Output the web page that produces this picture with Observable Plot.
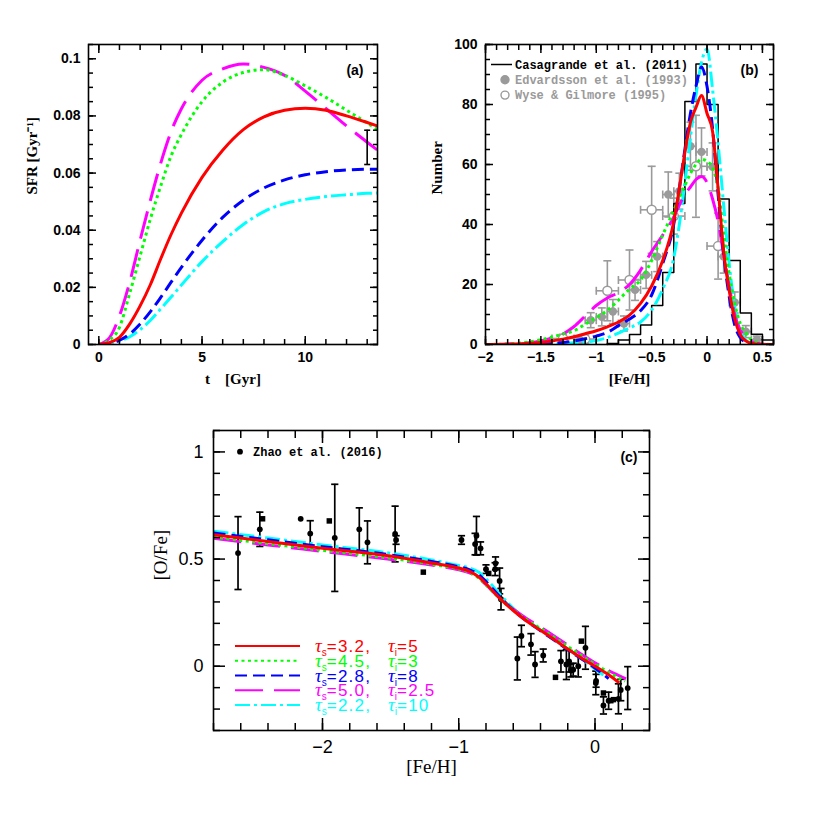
<!DOCTYPE html>
<html>
<head>
<meta charset="utf-8">
<script src="https://cdn.jsdelivr.net/npm/d3@7"></script>
<script src="https://cdn.jsdelivr.net/npm/@observablehq/plot@0.6"></script>
<style>
html,body{margin:0;padding:0;background:#fff;}
#wrap{position:relative;width:817px;height:817px;overflow:hidden;background:#fff;}
#wrap svg{position:absolute;overflow:visible;background:transparent;max-width:none;}
</style>
</head>
<body>
<div id="wrap"></div>
<script>
// ---------------- DATA ----------------
// model labels (tau_s, tau_i)
const modelTauS = ["3.2", "4.5", "2.8", "5.0", "2.2"];
const modelTauI = ["5", "3", "8", "2.5", "10"];

// panel (a): SFR vs time
const sfrT       = [0, 0.5, 1, 1.5, 2, 2.5, 3, 3.5, 4, 5, 6, 7, 8, 9, 10, 11, 12, 13, 13.5];
const sfrRed     = [0, 0.0006, 0.0025, 0.0072, 0.0135, 0.021, 0.030, 0.0385, 0.046, 0.0585, 0.068, 0.0752, 0.0797, 0.082, 0.0827, 0.082, 0.080, 0.0777, 0.0765];
const sfrGreen   = [0, 0.0015, 0.006, 0.018, 0.031, 0.044, 0.0555, 0.066, 0.0735, 0.085, 0.0918, 0.0952, 0.0962, 0.0942, 0.0905, 0.0865, 0.082, 0.0775, 0.0752];
const sfrBlue    = [0, 0.0003, 0.0015, 0.0037, 0.0072, 0.0115, 0.0165, 0.0218, 0.027, 0.0365, 0.0445, 0.0505, 0.0548, 0.0576, 0.0594, 0.0605, 0.0611, 0.0613, 0.0613];
const sfrMagenta = [0, 0.0022, 0.010, 0.022, 0.0365, 0.0505, 0.0635, 0.0745, 0.0825, 0.0925, 0.0965, 0.0982, 0.097, 0.0942, 0.0887, 0.0826, 0.0765, 0.0708, 0.068];
const sfrCyan    = [0, 0.0002, 0.0012, 0.0027, 0.0052, 0.0085, 0.0125, 0.0166, 0.0208, 0.029, 0.036, 0.042, 0.0465, 0.0493, 0.0508, 0.0518, 0.0524, 0.0529, 0.053];
const sfrObsT = [13.0];
const sfrObs = [0.069];
const sfrObsErr = [0.006];

// panel (b): metallicity distribution
const mdfFeh     = [-2.0, -1.8, -1.6, -1.5, -1.4, -1.3, -1.2, -1.1, -1.0, -0.9, -0.8, -0.7, -0.6, -0.5, -0.4, -0.3, -0.25, -0.2, -0.15, -0.1, -0.05, 0, 0.05, 0.1, 0.15, 0.2, 0.25, 0.3, 0.35, 0.4, 0.5, 0.6];
const mdfRed     = [0, 0.1, 0.4, 0.7, 1.2, 1.8, 2.6, 3.6, 4.6, 5.9, 7.5, 9.8, 13.7, 19.5, 28, 41, 52, 64, 74, 79, 83, 77, 71, 52, 31, 18, 8.5, 3.3, 1.2, 0.4, 0, 0];
const mdfGreen   = [0, 0.2, 0.9, 1.6, 2.5, 3.5, 4.6, 6.8, 9, 11.4, 14.8, 18.5, 21.5, 28, 36.5, 44.7, 49, 53, 57, 60, 61.8, 61, 59, 52, 37, 23.5, 13.5, 7, 3.8, 1.6, 0.2, 0];
const mdfBlue    = [0, 0, 0.1, 0.2, 0.4, 0.7, 1.2, 1.9, 2.8, 4.0, 6.3, 8.5, 11.3, 16.5, 27, 40.2, 52, 65, 77, 86, 92.5, 86, 72, 50, 30, 16, 6.5, 2.3, 0.8, 0.3, 0, 0];
const mdfMagenta = [0, 0.2, 0.6, 1.2, 2.2, 3.5, 6, 9.5, 13, 15.5, 17.3, 20, 24.8, 31, 36.5, 42.5, 46.5, 50, 52.5, 55, 56, 54, 48.5, 41, 30, 19.5, 10, 4.8, 2.5, 1, 0.1, 0];
const mdfCyan    = [0, 0, 0.05, 0.1, 0.2, 0.35, 0.55, 0.8, 1.3, 2.3, 3.8, 5.5, 7.5, 11.5, 18.5, 29, 40, 54, 69, 83, 94, 98.5, 85, 67, 46.5, 27, 12.5, 4.5, 1.5, 0.4, 0, 0];
// Casagrande et al. (2011) histogram: bin left edges and counts
const casBinLeft = [-0.9, -0.8, -0.7, -0.6, -0.5, -0.4, -0.3, -0.2, -0.1, 0.0, 0.1, 0.2, 0.3, 0.4, 0.5];
const casN       = [0.3, 1.5, 3.3, 6.5, 13, 24, 47, 81, 93.5, 80, 48.5, 28, 10.5, 3.4, 1.5];
const casBinWidth = 0.1;
// Edvardsson et al. (1993)
const edvFeh = [-1.15, -1.05, -0.95, -0.85, -0.75, -0.65, -0.55, -0.45, -0.35, -0.25, -0.15, -0.05, 0.05, 0.15, 0.25, 0.35, 0.45];
const edvN   = [1.6, 8.1, 9.2, 11.0, 7.0, 18.2, 23.2, 29.3, 50.0, 51.1, 66.1, 64.2, 59.2, 29.3, 14.0, 4.3, 1.6];
const edvErr = [1.2, 2.5, 3.0, 4.0, 2.5, 3.5, 4.5, 5.0, 7.5, 6.0, 8.0, 8.0, 8.0, 5.5, 3.5, 2.0, 1.2];
const edvHalfBin = 0.05;
// Wyse & Gilmore (1995)
const wgFeh = [-1.3, -1.1, -0.9, -0.7, -0.5, -0.3, -0.1, 0.1];
const wgN   = [2.0, 1.8, 17.9, 21.5, 44.9, 42.8, 59.4, 32.8];
const wgErr = [1.4, 1.3, 10.0, 10.0, 14.5, 6.0, 17.0, 11.0];
const wgHalfBin = 0.1;

// panel (c): [O/Fe] vs [Fe/H]
const ofeRedX     = [-2.8, -2.4, -2.0, -1.6, -1.2, -1.0, -0.92, -0.85, -0.8, -0.7, -0.6, -0.5, -0.4, -0.3, -0.2, -0.1, 0, 0.1, 0.178];
const ofeRedY     = [0.614, 0.582, 0.55, 0.522, 0.482, 0.458, 0.443, 0.415, 0.385, 0.318, 0.26, 0.21, 0.168, 0.125, 0.08, 0.038, 0.0, -0.04, -0.078];
const ofeGreenX   = [-2.8, -2.4, -2.0, -1.6, -1.2, -1.0, -0.92, -0.85, -0.8, -0.7, -0.6, -0.5, -0.4, -0.3, -0.2, -0.1, 0, 0.1, 0.22];
const ofeGreenY   = [0.603, 0.572, 0.541, 0.512, 0.476, 0.453, 0.438, 0.41, 0.38, 0.316, 0.262, 0.216, 0.176, 0.135, 0.092, 0.05, 0.01, -0.028, -0.07];
const ofeBlueX    = [-2.8, -2.4, -2.0, -1.6, -1.2, -1.0, -0.92, -0.85, -0.8, -0.7, -0.6, -0.5, -0.4, -0.3, -0.2, -0.1, 0, 0.1];
const ofeBlueY    = [0.622, 0.59, 0.558, 0.528, 0.489, 0.464, 0.45, 0.425, 0.395, 0.325, 0.262, 0.21, 0.166, 0.122, 0.078, 0.035, -0.008, -0.058];
const ofeMagentaX = [-2.8, -2.4, -2.0, -1.6, -1.2, -1.0, -0.92, -0.85, -0.8, -0.7, -0.6, -0.5, -0.4, -0.3, -0.2, -0.1, 0, 0.1, 0.227];
const ofeMagentaY = [0.597, 0.566, 0.536, 0.506, 0.472, 0.45, 0.436, 0.41, 0.38, 0.318, 0.266, 0.222, 0.182, 0.141, 0.098, 0.056, 0.016, -0.02, -0.059];
const ofeCyanX    = [-2.8, -2.4, -2.0, -1.6, -1.2, -1.0, -0.92, -0.85, -0.8, -0.7, -0.6, -0.5, -0.4, -0.3, -0.2, -0.1, 0, 0.08];
const ofeCyanY    = [0.630, 0.598, 0.566, 0.536, 0.496, 0.47, 0.458, 0.437, 0.408, 0.337, 0.27, 0.216, 0.17, 0.125, 0.08, 0.035, -0.012, -0.05];
// Zhao et al. (2016): circles with error bars
const zhaoFeh = [-2.62, -2.46, -2.16, -2.09, -1.91, -1.73, -1.67, -1.467, -1.46, -0.98, -0.88, -0.87, -0.84, -0.80, -0.73, -0.733, -0.70, -0.69, -0.57, -0.54, -0.47, -0.44, -0.38, -0.25, -0.21, -0.19, -0.177, -0.16, -0.123, -0.07, 0.006, 0.008, 0.062, 0.10, 0.172, 0.189, 0.24];
const zhaoOFe = [0.528, 0.639, 0.688, 0.619, 0.599, 0.639, 0.578, 0.617, 0.589, 0.589, 0.570, 0.609, 0.550, 0.453, 0.480, 0.453, 0.398, 0.313, 0.036, 0.141, 0.102, 0.008, 0.050, 0.023, 0.008, 0.023, -0.02, -0.016, 0.0, 0.086, -0.078, -0.068, -0.183, -0.161, -0.152, -0.111, -0.102];
const zhaoErr = [0.17, 0.08, 0, 0.06, 0.25, 0.10, 0.10, 0.13, 0.02, 0.02, 0.05, 0.09, 0.03, 0.02, 0.03, 0.03, 0.06, 0.05, 0.10, 0.05, 0.05, 0.06, 0.03, 0.05, 0.07, 0.05, 0.03, 0.03, 0.05, 0.10, 0.055, 0.03, 0.04, 0.04, 0.07, 0.05, 0.10];
// Zhao et al. (2016): squares
const zhaoSqFeh = [-2.44, -1.95, -1.26, -0.78, -0.29, -0.10, 0.062, 0.116, 0.135];
const zhaoSqOFe = [0.688, 0.678, 0.439, 0.433, -0.052, 0.117, -0.125, -0.161, -0.156];

// ---------------- STYLES ----------------
const modelColors = ["#ff0000", "#00ff00", "#0000ff", "#ff00ff", "#00ffff"];
const modelDash   = [null, "3,3.5", "12,6", "28,11", "15,4,3,4"];
const drawOrder   = [4, 3, 2, 1, 0];
const grey = "#9a9a9a";
const sansF = "'Liberation Sans', Arial, Helvetica, sans-serif";
const serifF = "'Liberation Serif', 'Times New Roman', serif";
const monoF = "'Liberation Mono', 'Courier New', monospace";
const fmt = d => String(+d.toFixed(6)).replace("-", "\u2212");

const hCap = {draw(ctx, size) { const r = Math.sqrt(size / Math.PI); ctx.moveTo(-r, 0); ctx.lineTo(r, 0); }};
const vCap = {draw(ctx, size) { const r = Math.sqrt(size / Math.PI); ctx.moveTo(0, -r); ctx.lineTo(0, r); }};

function boxAxes(o) {
  const c = {label: null, strokeWidth: 1.5};
  const txt = {fontSize: o.fontSize, fontWeight: o.fontWeight, fontFamily: sansF, fill: "black"};
  const none = () => "";
  return [
    Plot.axisX({...c, anchor: "bottom", ticks: o.xMinor, tickSize: -o.minorLen, tickFormat: none}),
    Plot.axisX({...c, anchor: "top", ticks: o.xMinor, tickSize: -o.minorLen, tickFormat: none}),
    Plot.axisX({...c, ...txt, anchor: "bottom", ticks: o.xMajor, tickSize: -o.majorLen, tickPadding: o.majorLen + o.xGap, tickFormat: fmt}),
    Plot.axisX({...c, anchor: "top", ticks: o.xMajor, tickSize: -o.majorLen, tickFormat: none}),
    Plot.axisY({...c, anchor: "left", ticks: o.yMinor, tickSize: -o.minorLen, tickFormat: none}),
    Plot.axisY({...c, anchor: "right", ticks: o.yMinor, tickSize: -o.minorLen, tickFormat: none}),
    Plot.axisY({...c, ...txt, anchor: "left", ticks: o.yMajor, tickSize: -o.majorLen, tickPadding: o.majorLen + o.yGap, tickFormat: fmt}),
    Plot.axisY({...c, anchor: "right", ticks: o.yMajor, tickSize: -o.majorLen, tickFormat: none}),
    Plot.frame({stroke: "black", strokeWidth: 1.6})
  ];
}
const rng = (a, b, s) => d3.range(Math.round((b - a) / s) + 1).map(i => +(a + i * s).toFixed(6));
function modelLine(xs, ys, i, sw) {
  return Plot.line(xs.map((x, k) => ({x, y: ys[k]})), {
    x: "x", y: "y", stroke: modelColors[i], strokeWidth: sw,
    strokeDasharray: modelDash[i], strokeLinecap: "butt", strokeLinejoin: "round",
    curve: "monotone-x", clip: true
  });
}
function errBars(rows, {x, y, lo, hi, xlo, xhi, color, sw, cap}) {
  const m = [];
  if (lo) {
    const r = rows.filter(d => lo(d) !== hi(d));
    m.push(Plot.ruleX(r, {x, y1: lo, y2: hi, stroke: color, strokeWidth: sw}));
    m.push(Plot.dot(r, {x, y: lo, symbol: hCap, r: cap, stroke: color, strokeWidth: sw, fill: "none"}));
    m.push(Plot.dot(r, {x, y: hi, symbol: hCap, r: cap, stroke: color, strokeWidth: sw, fill: "none"}));
  }
  if (xlo) {
    m.push(Plot.ruleY(rows, {y, x1: xlo, x2: xhi, stroke: color, strokeWidth: sw}));
    m.push(Plot.dot(rows, {x: xlo, y, symbol: vCap, r: cap, stroke: color, strokeWidth: sw, fill: "none"}));
    m.push(Plot.dot(rows, {x: xhi, y, symbol: vCap, r: cap, stroke: color, strokeWidth: sw, fill: "none"}));
  }
  return m;
}
const baseStyle = {fontFamily: sansF, background: "transparent", overflow: "visible", color: "black"};
const wrap = document.getElementById("wrap");
function place(svg, left, top) { svg.style.left = left + "px"; svg.style.top = top + "px"; wrap.appendChild(svg); }

// ---------------- PANEL (a) ----------------
const sfrSeries = [sfrRed, sfrGreen, sfrBlue, sfrMagenta, sfrCyan];
const sfrObsRows = sfrObsT.map((t, i) => ({t, v: sfrObs[i], e: sfrObsErr[i]}));
const plotA = Plot.plot({
  width: 400, height: 400, marginLeft: 88, marginRight: 23, marginTop: 44, marginBottom: 56,
  x: {domain: [-0.5, 13.5]}, y: {domain: [0, 0.105]},
  style: baseStyle,
  marks: [
    ...drawOrder.map(i => modelLine(sfrT, sfrSeries[i], i, 3)),
    ...errBars(sfrObsRows, {x: "t", lo: d => d.v - d.e, hi: d => d.v + d.e, color: "black", sw: 1.6, cap: 3}),
    ...boxAxes({xMajor: [0, 5, 10], xMinor: rng(0, 13, 1), yMajor: rng(0, 0.1, 0.02), yMinor: rng(0, 0.105, 0.005),
      majorLen: 8, minorLen: 5, xGap: 8, yGap: 8, fontSize: 14, fontWeight: "bold"}),
    Plot.text(["SFR [Gyr\u207B\u00B9]"], {frameAnchor: "left", dx: -56, rotate: -90, text: d => d, fontFamily: serifF, fontWeight: "bold", fontSize: 15}),
    Plot.text(["t\u00A0\u00A0\u00A0\u00A0[Gyr]"], {frameAnchor: "bottom", dy: 39, text: d => d, fontFamily: serifF, fontWeight: "bold", fontSize: 15}),
    Plot.text(["(a)"], {frameAnchor: "top-right", dx: -14, dy: 21, text: d => d, textAnchor: "end", fontWeight: "bold", fontSize: 14, fontFamily: sansF})
  ]
});
place(plotA, 0, 0);

// ---------------- PANEL (b) ----------------
const mdfSeries = [mdfRed, mdfGreen, mdfBlue, mdfMagenta, mdfCyan];
const casRows = [{x: casBinLeft[0], y: 0}, ...casBinLeft.map((x, i) => ({x, y: casN[i]})),
  {x: casBinLeft[casBinLeft.length - 1] + casBinWidth, y: 0}];
const edvRows = edvFeh.map((x, i) => ({x, y: edvN[i], e: edvErr[i]}));
const wgRows = wgFeh.map((x, i) => ({x, y: wgN[i], e: wgErr[i]}));
const plotB = Plot.plot({
  width: 417, height: 400, marginLeft: 85, marginRight: 44, marginTop: 44, marginBottom: 56,
  x: {domain: [-2, 0.6]}, y: {domain: [0, 100]},
  style: baseStyle,
  marks: [
    ...errBars(wgRows, {x: "x", y: "y", lo: d => d.y - d.e, hi: d => d.y + d.e, xlo: d => d.x - wgHalfBin, xhi: d => d.x + wgHalfBin, color: grey, sw: 1.6, cap: 4}),
    ...errBars(edvRows, {x: "x", y: "y", lo: d => d.y - d.e, hi: d => d.y + d.e, xlo: d => d.x - edvHalfBin, xhi: d => d.x + edvHalfBin, color: grey, sw: 1.6, cap: 4}),
    Plot.dot(wgRows, {x: "x", y: "y", r: 4.5, stroke: grey, strokeWidth: 1.5, fill: "white"}),
    Plot.dot(edvRows, {x: "x", y: "y", r: 4.2, fill: grey, stroke: "none"}),
    Plot.line(casRows, {x: "x", y: "y", curve: "step-after", stroke: "black", strokeWidth: 1.5}),
    ...drawOrder.map(i => modelLine(mdfFeh, mdfSeries[i], i, 3)),
    ...boxAxes({xMajor: rng(-2, 0.5, 0.5), xMinor: rng(-2, 0.6, 0.1), yMajor: rng(0, 100, 20), yMinor: rng(0, 100, 5),
      majorLen: 8, minorLen: 5, xGap: 8, yGap: 8, fontSize: 14, fontWeight: "bold"}),
    Plot.text(["Number"], {frameAnchor: "left", dx: -48, rotate: -90, text: d => d, fontFamily: serifF, fontWeight: "bold", fontSize: 15}),
    Plot.text(["[Fe/H]"], {frameAnchor: "bottom", dy: 39, text: d => d, fontFamily: serifF, fontWeight: "bold", fontSize: 15}),
    Plot.text(["(b)"], {frameAnchor: "top-right", dx: -15, dy: 21, text: d => d, textAnchor: "end", fontWeight: "bold", fontSize: 14, fontFamily: sansF})
  ]
});
place(plotB, 400, 0);
{
  const g = d3.select(plotB).append("g").attr("font-family", monoF).attr("font-weight", "bold")
    .attr("font-size", 12).attr("text-anchor", "start");
  const rows = [
    {label: "Casagrande et al. (2011)", color: "black", kind: "line"},
    {label: "Edvardsson et al. (1993)", color: grey, kind: "filled"},
    {label: "Wyse & Gilmore (1995)", color: grey, kind: "open"}
  ];
  rows.forEach((r, i) => {
    const y = 64.5 + i * 15.3;
    if (r.kind === "line") g.append("line").attr("x1", 91).attr("x2", 112).attr("y1", y).attr("y2", y).attr("stroke", "black").attr("stroke-width", 1.5);
    else g.append("circle").attr("cx", 105).attr("cy", y).attr("r", 4).attr("fill", r.kind === "filled" ? grey : "white").attr("stroke", grey).attr("stroke-width", 1.4);
    g.append("text").attr("x", 115).attr("y", y + 4.3).attr("fill", r.color).text(r.label);
  });
}

// ---------------- PANEL (c) ----------------
const ofeXs = [ofeRedX, ofeGreenX, ofeBlueX, ofeMagentaX, ofeCyanX];
const ofeYs = [ofeRedY, ofeGreenY, ofeBlueY, ofeMagentaY, ofeCyanY];
const zhaoRows = zhaoFeh.map((x, i) => ({x, y: zhaoOFe[i], e: zhaoErr[i]}));
const zhaoSqRows = zhaoSqFeh.map((x, i) => ({x, y: zhaoSqOFe[i]}));
const plotC = Plot.plot({
  width: 817, height: 417, marginLeft: 213, marginRight: 168, marginTop: 30, marginBottom: 87,
  x: {domain: [-2.8, 0.4]}, y: {domain: [-0.3, 1.1]},
  style: baseStyle,
  marks: [
    ...errBars(zhaoRows, {x: "x", lo: d => d.y - d.e, hi: d => d.y + d.e, color: "black", sw: 1.7, cap: 3.6}),
    Plot.dot(zhaoRows, {x: "x", y: "y", r: 2.9, fill: "black"}),
    Plot.dot(zhaoSqRows, {x: "x", y: "y", r: 3.1, symbol: "square", fill: "black"}),
    ...drawOrder.map(i => modelLine(ofeXs[i], ofeYs[i], i, 3)),
    ...boxAxes({xMajor: [-2, -1, 0], xMinor: rng(-2.8, 0.4, 0.2), yMajor: [0, 0.5, 1], yMinor: rng(-0.3, 1.1, 0.1),
      majorLen: 12, minorLen: 7, xGap: 10, yGap: 10, fontSize: 18, fontWeight: "normal"}),
    Plot.text(["[O/Fe]"], {frameAnchor: "left", dx: -53, rotate: -90, text: d => d, fontFamily: serifF, fontSize: 19}),
    Plot.text(["[Fe/H]"], {frameAnchor: "bottom", dy: 42, text: d => d, fontFamily: serifF, fontSize: 19}),
    Plot.text(["(c)"], {frameAnchor: "top-right", dx: -12, dy: 22, text: d => d, textAnchor: "end", fontWeight: "bold", fontSize: 14, fontFamily: sansF})
  ]
});
place(plotC, 0, 400);
{
  const svg = d3.select(plotC);
  // Zhao legend
  const gz = svg.append("g").attr("text-anchor", "start");
  gz.append("circle").attr("cx", 240).attr("cy", 51.7).attr("r", 2.9).attr("fill", "black");
  gz.append("text").attr("x", 253).attr("y", 56).attr("font-family", monoF).attr("font-weight", "bold").attr("font-size", 12).text("Zhao et al. (2016)");
  // model legend
  const gl = svg.append("g").attr("text-anchor", "start");
  [0, 1, 2, 3, 4].forEach(i => {
    const y = 246 + i * 14.75;
    gl.append("line").attr("x1", 235).attr("x2", 300).attr("y1", y).attr("y2", y)
      .attr("stroke", modelColors[i]).attr("stroke-width", 2).attr("stroke-dasharray", modelDash[i]);
    const t = gl.append("text").attr("y", y + 6).attr("fill", modelColors[i]).attr("font-family", sansF).attr("font-size", 17);
    t.append("tspan").attr("x", 315).attr("font-family", serifF).attr("font-style", "italic").attr("font-size", 19).text("\u03C4");
    t.append("tspan").attr("dy", 4).attr("font-size", 10).text("s");
    t.append("tspan").attr("dy", -4).attr("letter-spacing", 1.2).text("=" + modelTauS[i] + ",");
    t.append("tspan").attr("x", 388).attr("font-family", serifF).attr("font-style", "italic").attr("font-size", 19).text("\u03C4");
    t.append("tspan").attr("dy", 4).attr("font-size", 10).text("i");
    t.append("tspan").attr("dy", -4).attr("letter-spacing", 1.2).text("=" + modelTauI[i]);
  });
}
</script>
</body>
</html>
